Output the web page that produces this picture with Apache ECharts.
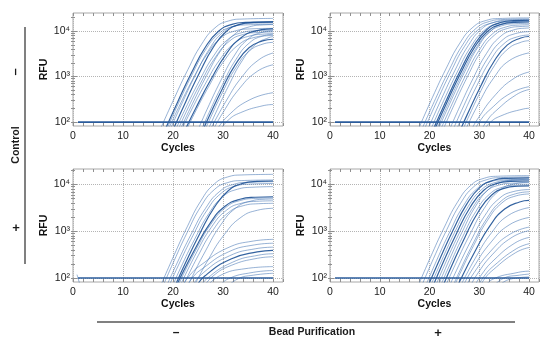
<!DOCTYPE html>
<html><head><meta charset="utf-8">
<script src="https://cdn.jsdelivr.net/npm/echarts@6/dist/echarts.min.js"></script>
<style>html,body{margin:0;padding:0;background:#fff}#c{width:550px;height:344px}</style>
</head><body><div id="c"></div>
<script>
// ---- data (cycle, RFU) ----
const xTickLabels = [0, 10, 20, 30, 40];
const yTickValues = [100, 1000, 10000];
const yTickLabels = ['10²', '10³', '10⁴'];
const thresholdLine = [[1, 100], [40, 100]];

const tlCurves = [
 [[17.2,60],[20.3,342],[23.0,1440],[25.7,5110],[28.4,11800],[31.1,16700],[33.8,18400],[40,19000]],
 [[18.2,60],[21.0,288],[23.7,1212],[26.4,4300],[29.1,9940],[31.8,14100],[34.5,15530],[40,16000]],
 [[18.5,60],[21.05,254],[23.75,1068],[26.45,3790],[29.15,8760],[31.85,12420],[34.55,13690],[40,14100]],
 [[18.8,60],[21.1,207],[23.95,871],[26.8,3090],[29.65,7140],[32.5,10130],[35.35,11165],[40,11500]],
 [[19.2,60],[21.9,273],[24.6,1152],[27.3,4086],[30.0,9440],[32.7,13390],[35.4,14760],[40,15200]],
 [[19.8,60],[22.6,288],[25.3,1212],[28.0,4300],[30.7,9940],[33.4,14100],[36.1,15530],[40,16000]],
 [[20.3,60],[22.4,189],[25.25,795],[28.1,2820],[30.95,6520],[33.8,9250],[36.65,10190],[40,10500]],
 [[20.8,60],[22.7,173],[25.55,727],[28.4,2580],[31.25,5960],[34.1,8460],[36.95,9320],[40,9600]],
 [[21.2,60],[23.9,254],[26.75,1068],[29.6,3790],[32.45,8760],[35.3,12420],[38.15,13690],[40,13900]],
 [[21.5,60],[23.4,160],[26.4,674],[29.4,2390],[32.4,5530],[35.4,7840],[38.4,8640],[40,8800]],
 [[22.2,60],[24.6,207],[27.6,871],[30.6,3090],[33.6,7140],[36.6,10130],[39.6,11165],[40,11200]],
 [[22.5,60],[24.2,147],[27.2,621],[30.2,2200],[33.2,5090],[36.2,7220],[39.2,7960],[40,8030]],
 [[24.8,60],[26.8,189],[29.5,795],[32.2,2820],[34.9,6520],[37.6,9250],[40,10100]],
 [[25.5,60],[27.2,160],[29.9,674],[32.6,2390],[35.3,5530],[38.0,7840],[40,8500]],
 [[25.8,60],[27.1,124],[29.8,523],[32.5,1855],[35.2,4290],[37.9,6080],[40,6620]],
 [[26.2,60],[27.2,106],[29.9,447],[32.6,1586],[35.3,3665],[38.0,5200],[40,5650]],
 [[26.8,60],[28.4,147],[31.1,621],[33.8,2200],[36.5,5090],[39.2,7220],[40,7540]],
 [[27.2,60],[30.6,288],[33.9,1021],[37.2,2360],[40,3300]],
 [[27.8,60],[29.95,159],[33.4,565],[36.85,1305],[40,1820]],
 [[28.5,60],[30.9,134],[35.4,311],[40,442]],
 [[29.2,60],[31,109],[33.5,161],[38,229],[40,243]]
];
const tlDark = [1, 5, 10, 14];

const trCurves = [
 [[17.5,60],[20.6,351],[23.3,1477],[26.0,5242],[28.7,12110],[31.4,17180],[34.1,18930],[40,19500]],
 [[18.2,60],[21.25,333],[23.95,1402],[26.65,4973],[29.35,11490],[32.05,16300],[34.75,17960],[40,18500]],
 [[18.7,60],[21.6,306],[24.3,1288],[27.0,4570],[29.7,10560],[32.4,14980],[35.1,16500],[40,17000]],
 [[19.4,60],[22.4,324],[25.1,1364],[27.8,4839],[30.5,11180],[33.2,15860],[35.9,17480],[40,18000]],
 [[20.0,60],[22.85,297],[25.55,1250],[28.25,4435],[30.95,10250],[33.65,14540],[36.35,16020],[40,16400]],
 [[20.5,60],[23.45,315],[26.15,1326],[28.85,4704],[31.55,10870],[34.25,15420],[36.95,16990],[40,17300]],
 [[20.8,60],[23.6,288],[26.3,1212],[29.0,4301],[31.7,9938],[34.4,14100],[37.1,15530],[40,15850]],
 [[21.2,60],[23.85,270],[26.55,1136],[29.25,4032],[31.95,9317],[34.65,13220],[37.35,14560],[40,14850]],
 [[21.5,60],[24.4,306],[27.1,1288],[29.8,4570],[32.5,10560],[35.2,14980],[37.9,16500],[40,16750]],
 [[22.0,60],[24.55,252],[27.25,1061],[29.95,3763],[32.65,8696],[35.35,12330],[38.05,13590],[40,13800]],
 [[22.5,60],[24.9,234],[27.6,985],[30.3,3495],[33.0,8075],[35.7,11450],[38.4,12620],[40,12800]],
 [[23.8,60],[26.05,216],[28.75,909],[31.45,3226],[34.15,7453],[36.85,10570],[39.55,11650],[40,11700]],
 [[24.5,60],[26.45,180],[29.15,758],[31.85,2688],[34.55,6211],[37.25,8811],[40,9720]],
 [[25.2,60],[26.85,153],[29.55,644],[32.25,2285],[34.95,5280],[37.65,7489],[40,8200]],
 [[26.0,60],[27.55,144],[30.25,606],[32.95,2151],[35.65,4969],[38.35,7048],[40,7600]],
 [[26.5,60],[27.65,117],[30.35,492],[33.05,1747],[35.75,4037],[38.45,5727],[40,6150]],
 [[27.0,60],[30.0,273],[33.0,968],[36.0,2236],[40,3320]],
 [[28.2,60],[29.6,114],[33.3,403],[37.1,932],[40,1260]],
 [[28.8,60],[30.3,112],[32.15,188],[36.35,435],[40,600]],
 [[30.2,60],[31.5,105],[33.3,175],[37.5,404],[40,520]],
 [[30.8,60],[32,94],[34.35,137],[38.85,194],[40,201]]
];
const trDark = [5, 6, 14];

const blCurves = [
 [[17.3,60],[20.15,297],[22.85,1250],[25.55,4435],[28.25,10250],[30.95,14540],[33.65,16020],[40,16500]],
 [[17.8,60],[20.15,225],[22.85,947],[25.55,3360],[28.25,7764],[30.95,11010],[33.65,12140],[40,12500]],
 [[18.5,60],[20.8,207],[23.65,871],[26.5,3091],[29.35,7143],[32.2,10130],[35.05,11165],[40,11500]],
 [[19.0,60],[21.1,189],[23.95,795],[26.8,2823],[29.65,6522],[32.5,9251],[35.35,10190],[40,10500]],
 [[19.7,60],[21.5,162],[24.35,682],[27.2,2419],[30.05,5590],[32.9,7930],[35.75,8738],[40,9000]],
 [[20.2,60],[22.55,216],[25.4,909],[28.25,3226],[31.1,7453],[33.95,10570],[36.8,11650],[40,11900]],
 [[20.5,60],[21.4,99],[24.4,417],[27.4,1478],[30.4,3416],[33.4,4846],[36.4,5340],[40,5480]],
 [[20.8,60],[21.6,94],[24.55,394],[27.55,1398],[30.55,3230],[33.55,4581],[36.55,5049],[40,5180]],
 [[21.2,60],[24.65,341],[27.65,1210],[30.65,2795],[33.65,3965],[36.65,4369],[40,4480]],
 [[21.8,60],[25.05,303],[28.05,1075],[31.05,2484],[34.05,3524],[37.05,3883],[40,3960]],
 [[22.8,60],[23.5,90],[26.5,379],[29.5,1344],[32.5,3106],[35.5,4405],[38.5,4854],[40,4900]],
 [[24.0,60],[27.0,242],[30.3,860],[33.6,1988],[36.9,2819],[40,3100]],
 [[21.5,60],[23.5,119],[25.55,188],[30.8,435],[36.05,617],[40,670]],
 [[22.5,60],[24,105],[25.8,156],[31.05,360],[36.3,511],[40,554]],
 [[23.5,60],[26.05,129],[31.3,298],[36.55,423],[40,457]],
 [[24.5,60],[26.35,110],[31.6,255],[36.85,361],[40,389]],
 [[25.5,60],[26.65,94],[31.9,217],[37.15,308],[40,330]],
 [[26.0,60],[28,110],[31.65,186],[36.9,264],[40,284]],
 [[26.5,60],[29.35,112],[34.6,159],[40,175]],
 [[29.2,60],[30.8,93],[36.05,132],[40,144]],
 [[30.5,60],[33,96],[36.1,115],[40,126]],
 [[0.8,118],[1.6,60]]
];
const blDark = [5, 6, 15];

const brCurves = [
 [[17.5,60],[20.2,279],[22.9,1174],[25.6,4167],[28.3,9627],[31.0,13660],[33.7,15050],[40,15500]],
 [[18.2,60],[20.8,261],[23.5,1098],[26.2,3898],[28.9,9006],[31.6,12780],[34.3,14080],[40,14500]],
 [[19.0,60],[21.4,234],[24.1,985],[26.8,3495],[29.5,8075],[32.2,11450],[34.9,12620],[40,13000]],
 [[19.5,60],[22.05,252],[24.75,1061],[27.45,3763],[30.15,8696],[32.85,12330],[35.55,13590],[40,13950]],
 [[20.0,60],[22.35,225],[25.05,947],[27.75,3360],[30.45,7764],[33.15,11010],[35.85,12140],[40,12450]],
 [[20.5,60],[22.75,216],[25.45,909],[28.15,3226],[30.85,7453],[33.55,10570],[36.25,11650],[40,11900]],
 [[21.0,60],[23.1,198],[25.8,833],[28.5,2957],[31.2,6832],[33.9,9692],[36.6,10680],[40,10930]],
 [[21.5,60],[23.9,234],[26.6,985],[29.3,3495],[32.0,8075],[34.7,11450],[37.4,12620],[40,12900]],
 [[22.0,60],[23.95,180],[26.65,758],[29.35,2688],[32.05,6211],[34.75,8811],[37.45,9709],[40,9900]],
 [[22.5,60],[24.35,171],[27.05,720],[29.75,2554],[32.45,5901],[35.15,8370],[37.85,9223],[40,9400]],
 [[23.0,60],[25.3,207],[28.15,871],[31.0,3091],[33.85,7143],[36.7,10130],[40,11230]],
 [[23.8,60],[25.4,144],[28.25,606],[31.1,2151],[33.95,4969],[36.8,7048],[40,7800]],
 [[24.5,60],[25.9,129],[28.75,545],[31.6,1935],[34.45,4472],[37.3,6344],[40,6980]],
 [[24.8,60],[26.0,117],[28.85,492],[31.7,1747],[34.55,4037],[37.4,5727],[40,6280]],
 [[25.5,60],[26.1,86],[29.1,364],[32.1,1290],[35.1,2981],[38.1,4229],[40,4560]],
 [[26.0,60],[29.2,265],[32.5,941],[35.8,2174],[40,3210]],
 [[26.5,60],[28.8,167],[32.4,591],[36.0,1366],[40,1975]],
 [[27.2,60],[28.4,106],[32.3,376],[36.2,870],[40,1226]],
 [[28.0,60],[29.5,117],[32.7,323],[36.6,745],[40,1030]],
 [[28.8,60],[30.5,120],[32.95,242],[37.15,559],[40,738]],
 [[29.5,60],[31,110],[32.95,183],[37.45,422],[40,540]],
 [[30.0,60],[31,94],[32.8,150],[37.3,348],[40,449]],
 [[31.0,60],[32.6,93],[37.85,132],[40,140]],
 [[32.5,60],[35,100],[38.1,115],[40,121]],
 [[33.5,60],[36,93],[40,105]]
];
const brDark = [3, 5, 9, 14];

// ---- layout ----
const panels = [
  {curves: tlCurves, dark: tlDark, box: {left: 73, top: 13, width: 210, height: 113}, ymax: 25000},
  {curves: trCurves, dark: trDark, box: {left: 330, top: 13, width: 209, height: 113}, ymax: 25000},
  {curves: blCurves, dark: blDark, box: {left: 73, top: 169, width: 210, height: 113}, ymax: 21500},
  {curves: brCurves, dark: brDark, box: {left: 330, top: 169, width: 209, height: 113}, ymax: 21500}
];
const minorY = [200,300,400,500,600,700,800,900,2000,3000,4000,5000,6000,7000,8000,9000,20000];
const lightColor = 'rgba(62,112,176,0.6)';
const darkColor = 'rgba(30,82,150,0.9)';
const frameColor = '#a8a8a8';

function yFmt(v) {
  const e = Math.log10(v);
  const r = Math.round(e);
  if (Math.abs(e - r) > 0.01) return '';
  const idx = yTickValues.indexOf(Math.pow(10, r));
  return idx >= 0 ? yTickLabels[idx] : '';
}

const option = {
  animation: false,
  textStyle: {fontFamily: 'Arial, "Liberation Sans", sans-serif'},
  grid: [], xAxis: [], yAxis: [], series: [],
  graphic: [
    {type: 'line', shape: {x1: 25, y1: 27, x2: 25, y2: 264}, style: {stroke: '#808080', lineWidth: 2}},
    {type: 'text', x: 15, y: 72, rotation: Math.PI / 2, style: {text: '–', font: 'bold 13px Arial', fill: '#1a1a1a', align: 'center', verticalAlign: 'middle'}},
    {type: 'text', x: 16, y: 145, rotation: Math.PI / 2, style: {text: 'Control', font: 'bold 10.5px Arial', fill: '#1a1a1a', align: 'center', verticalAlign: 'middle'}},
    {type: 'text', x: 16, y: 228, style: {text: '+', font: 'bold 13px Arial', fill: '#1a1a1a', align: 'center', verticalAlign: 'middle'}},
    {type: 'line', shape: {x1: 97, y1: 322, x2: 515, y2: 322}, style: {stroke: '#808080', lineWidth: 2}},
    {type: 'text', x: 176, y: 333, style: {text: '–', font: 'bold 12px Arial', fill: '#1a1a1a', align: 'center', verticalAlign: 'middle'}},
    {type: 'text', x: 312, y: 332, style: {text: 'Bead Purification', font: 'bold 10.5px Arial', fill: '#1a1a1a', align: 'center', verticalAlign: 'middle'}},
    {type: 'text', x: 438, y: 333, style: {text: '+', font: 'bold 13px Arial', fill: '#1a1a1a', align: 'center', verticalAlign: 'middle'}}
  ]
};

panels.forEach((p, i) => {
  option.grid.push(Object.assign({show: true, borderColor: frameColor, borderWidth: 1, backgroundColor: 'transparent'}, p.box));
  const xi = option.xAxis.length;
  option.xAxis.push({
    gridIndex: i, type: 'value', min: 0, max: 42, interval: 10, position: 'bottom',
    axisLine: {show: false}, axisTick: {show: false},
    axisLabel: {color: '#1a1a1a', fontSize: 10.5, margin: 5, formatter: v => (xTickLabels.indexOf(v) >= 0 ? String(v) : '')},
    splitLine: {show: true, lineStyle: {type: 'dotted', color: '#b4b4b4', width: 1}},
    name: 'Cycles', nameLocation: 'middle', nameGap: 14,
    nameTextStyle: {fontWeight: 'bold', fontSize: 10.5, color: '#111'}
  });
  option.xAxis.push({
    gridIndex: i, type: 'value', min: 0, max: 42, interval: 2, position: 'bottom',
    axisLine: {show: false}, axisLabel: {show: false}, splitLine: {show: false},
    axisTick: {show: true, inside: true, length: 3, lineStyle: {color: '#909090'}}
  });
  option.xAxis.push({
    gridIndex: i, type: 'value', min: 0, max: 42, interval: 2, position: 'top',
    axisLine: {show: false}, axisLabel: {show: false}, splitLine: {show: false},
    axisTick: {show: true, inside: true, length: 3, lineStyle: {color: '#909090'}}
  });
  const yi = option.yAxis.length;
  option.yAxis.push({
    gridIndex: i, type: 'log', logBase: 10, min: 82, max: p.ymax, position: 'left',
    axisLine: {show: false},
    axisTick: {show: true, inside: true, length: 4, customValues: yTickValues, lineStyle: {color: '#909090'}},
    axisLabel: {customValues: yTickValues, formatter: yFmt, color: '#1a1a1a', fontSize: 10.5, margin: 3},
    splitLine: {show: true, lineStyle: {type: 'dotted', color: '#b4b4b4', width: 1}},
    name: 'RFU', nameLocation: 'middle', nameGap: 20,
    nameTextStyle: {fontWeight: 'bold', fontSize: 10.5, color: '#111'}
  });
  option.yAxis.push({
    gridIndex: i, type: 'log', logBase: 10, min: 82, max: p.ymax, position: 'left',
    axisLine: {show: false}, axisLabel: {show: false}, splitLine: {show: false},
    axisTick: {show: true, inside: true, length: 2, customValues: minorY, lineStyle: {color: '#909090'}}
  });
  option.yAxis.push({
    gridIndex: i, type: 'log', logBase: 10, min: 82, max: p.ymax, position: 'right',
    axisLine: {show: false}, axisLabel: {show: false}, splitLine: {show: false},
    axisTick: {show: true, inside: true, length: 2, customValues: yTickValues.concat(minorY), lineStyle: {color: '#909090'}}
  });
  p.curves.forEach((pts, j) => {
    const dark = p.dark.indexOf(j) >= 0;
    option.series.push({
      type: 'line', xAxisIndex: xi, yAxisIndex: yi, data: pts,
      smooth: 0.5, showSymbol: false, symbol: 'none',
      silent: true, clip: true, z: dark ? 3 : 2,
      lineStyle: {color: dark ? darkColor : lightColor, width: dark ? 1.2 : 0.9}
    });
  });
  option.series.push({
    type: 'line', xAxisIndex: xi, yAxisIndex: yi, data: thresholdLine,
    showSymbol: false, symbol: 'none', silent: true, clip: true, z: 4,
    lineStyle: {color: '#2b5c9c', width: 1.6}
  });
});

const chart = echarts.init(document.getElementById('c'), null, {renderer: 'canvas'});
chart.setOption(option);
</script>
</body></html>
